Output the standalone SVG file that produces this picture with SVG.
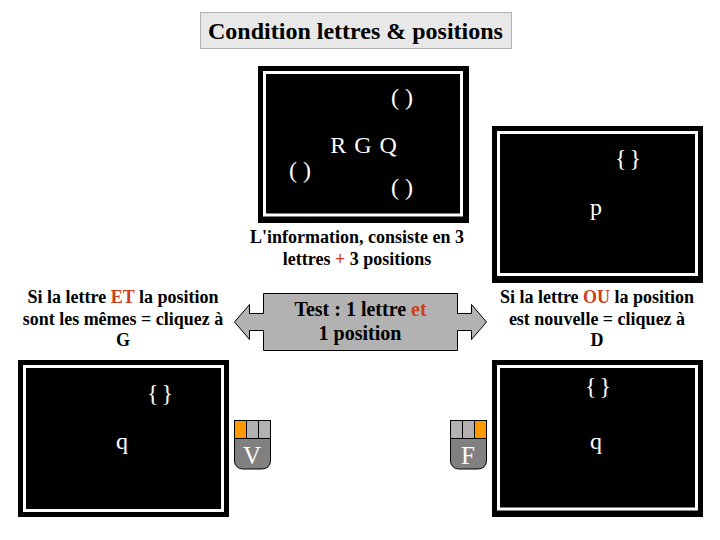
<svg xmlns="http://www.w3.org/2000/svg" width="720" height="540" viewBox="0 0 720 540">
<defs><style>
text{font-family:"Liberation Serif","Times New Roman",serif;text-anchor:middle}
.scr{fill:#000}
.ring{fill:none;stroke:#fff;stroke-width:3}
.sym{fill:#fff;font-size:24px}
.brace{word-spacing:-3px}
.cap{fill:#000;font-size:18px;font-weight:bold}
.cap2{fill:#000;font-size:20px;font-weight:bold}
.red{fill:#c8401c}
.btn{fill:#b2b2b2;stroke:#000;stroke-width:1}
.on{fill:#ff9900;stroke:#000;stroke-width:1}
.body{fill:#808080;stroke:#000;stroke-width:1}
.key{fill:#fff;font-size:25px}
</style></defs>
<rect width="720" height="540" fill="#fff"/>
<g id="title"><rect x="200.500" y="12.500" width="311" height="36" fill="#e8e8e8" stroke="#b0b0b0"/><text x="355.500" y="38.500" font-size="24" font-weight="bold" fill="#000">Condition lettres &amp; positions</text></g>
<g id="screen-top"><rect class="scr" x="258" y="66" width="211" height="157"/><rect class="ring" x="264.500" y="72.500" width="197" height="142.500"/>
<text class="sym" x="402" y="105">( )</text><text class="sym" x="364" y="153" letter-spacing="1">R G Q</text><text class="sym" x="300" y="178">( )</text><text class="sym" x="402" y="195">( )</text></g>
<g id="caption-top"><text class="cap" x="357" y="243">L'information, consiste en 3</text><text class="cap" x="357" y="265">lettres <tspan class="red">+</tspan> 3 positions</text></g>
<g id="screen-right-top"><rect class="scr" x="492" y="126" width="211" height="157"/><rect class="ring" x="498.500" y="132.500" width="198" height="142"/>
<text class="sym brace" x="628" y="166">{ }</text><text class="sym" x="596" y="215">p</text></g>
<g id="caption-left"><text class="cap" x="123" y="303">Si la lettre <tspan class="red">ET</tspan> la position</text><text class="cap" x="123" y="325">sont les mêmes = cliquez à</text><text class="cap" x="123" y="346">G</text></g>
<g id="caption-right"><text class="cap" x="597" y="303">Si la lettre <tspan class="red">OU</tspan> la position</text><text class="cap" x="597" y="325">est nouvelle = cliquez à</text><text class="cap" x="597" y="346">D</text></g>
<g id="test"><path d="M263.500 293.500H457.500V313.500H471.500V304.500L486.500 322L471.500 339.500V330.500H457.500V350.500H263.500V330.500H249.500V339.500L234.500 322L249.500 304.500V313.500H263.500Z" fill="#b2b2b2" stroke="#000"/>
<text class="cap2" x="360.500" y="316">Test : 1 lettre <tspan class="red">et</tspan></text><text class="cap2" x="360" y="340">1 position</text></g>
<g id="screen-left-bottom"><rect class="scr" x="18" y="360" width="211" height="157"/><rect class="ring" x="24.500" y="366.500" width="198" height="144"/>
<text class="sym brace" x="160" y="401">{ }</text><text class="sym" x="122" y="449">q</text></g>
<g id="screen-right-bottom"><rect class="scr" x="492" y="360" width="211" height="157"/><rect class="ring" x="498.500" y="366.500" width="198" height="142.500"/>
<text class="sym brace" x="598" y="394">{ }</text><text class="sym" x="596" y="449">q</text></g>
<g id="mouse-v"><path class="body" d="M234.500 438.500H270.500V461a8 8 0 0 1-8 8H242.500a8 8 0 0 1-8-8Z"/><rect class="on" x="234.500" y="420.500" width="12" height="18"/><rect class="btn" x="246.500" y="420.500" width="12" height="18"/><rect class="btn" x="258.500" y="420.500" width="12" height="18"/><text class="key" x="252" y="464">V</text></g>
<g id="mouse-f"><path class="body" d="M450.500 438.500H486.500V461a8 8 0 0 1-8 8H458.500a8 8 0 0 1-8-8Z"/><rect class="btn" x="450.500" y="420.500" width="12" height="18"/><rect class="btn" x="462.500" y="420.500" width="12" height="18"/><rect class="on" x="474.500" y="420.500" width="12" height="18"/><text class="key" x="468" y="464">F</text></g>
</svg>
